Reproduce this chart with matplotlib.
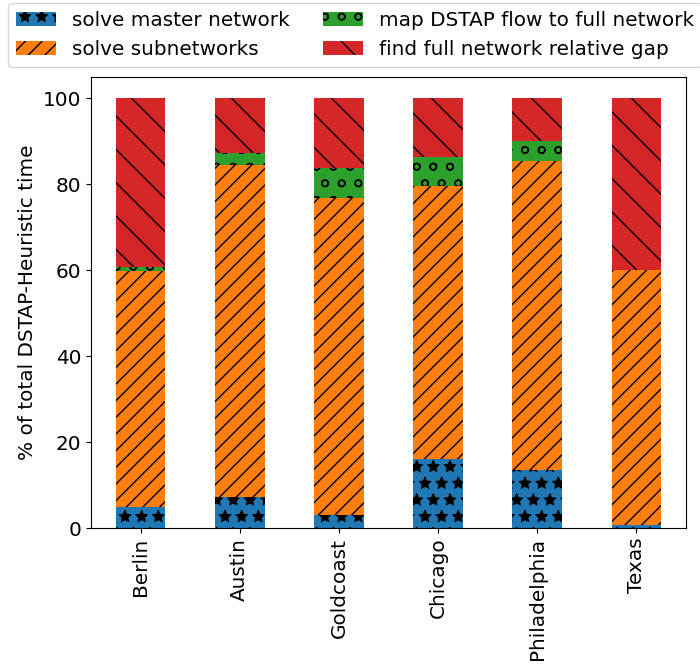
import matplotlib
matplotlib.use("Agg")
import matplotlib.pyplot as plt
import numpy as np

cities = ["Berlin", "Austin", "Goldcoast", "Chicago", "Philadelphia", "Texas"]
series_names = ["solve master network", "solve subnetworks",
                "map DSTAP flow to full network", "find full network relative gap"]
master = [4.9, 7.3, 3.0, 16.1, 13.5, 0.6]
subnets = [54.9, 77.1, 73.9, 63.6, 72.0, 59.5]
mapflow = [1.0, 2.8, 7.0, 6.7, 4.5, 0.0]
gap = [39.2, 12.8, 16.1, 13.6, 10.0, 39.9]

colors = ["#1f77b4", "#ff7f0e", "#2ca02c", "#d62728"]
hatches = ["*", "//", "o", "\\"]

plt.rcParams["font.size"] = 14.4
plt.rcParams["hatch.linewidth"] = 1.0

fig = plt.figure(figsize=(7, 6.67), dpi=100)
ax = fig.add_axes([91/700, 1 - 528/667, 595/700, 451/667])

x = np.arange(len(cities))
bottom = np.zeros(len(cities))
handles = []
for vals, name, c, h in zip([master, subnets, mapflow, gap], series_names, colors, hatches):
    v = np.array(vals)
    b = ax.bar(x, v, 0.5, bottom=bottom, color=c, hatch=h, label=name,
               edgecolor="black", linewidth=0)
    handles.append(b)
    bottom += v

ax.set_xlim(-0.5, 5.5)
ax.set_ylim(0, 105)
ax.set_xticks(x)
ax.set_xticklabels(cities, rotation=90)
ax.set_yticks([0, 20, 40, 60, 80, 100])
ax.set_ylabel("% of total DSTAP-Heuristic time")

fig.legend(handles=handles, labels=series_names, ncol=2, loc="upper left",
           bbox_to_anchor=(8/700, 1 - 3/667), borderaxespad=0,
           columnspacing=1.65, handlelength=2.0)

fig.savefig("out.png", dpi=100)
